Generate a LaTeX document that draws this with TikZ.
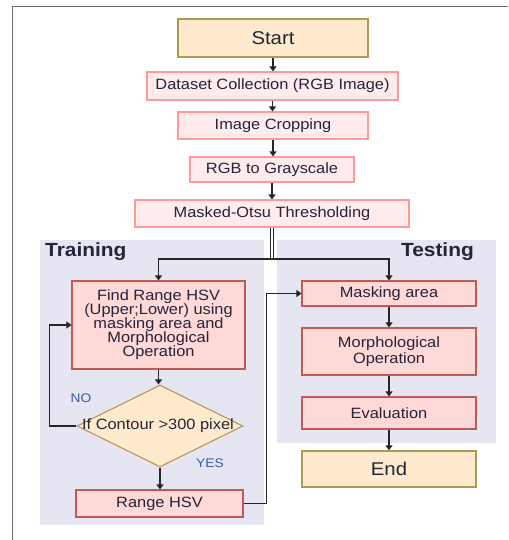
\documentclass[tikz,border=0pt]{standalone}
\usepackage{fontspec}
\setmainfont{Liberation Sans}[FakeStretch=1.1]
\usetikzlibrary{shapes.geometric,arrows.meta}
\definecolor{ofill}{HTML}{FFEACD}
\definecolor{obord}{HTML}{B09858}
\definecolor{lfill}{HTML}{FFEBEB}
\definecolor{lbord}{HTML}{FF9A9A}
\definecolor{dfill}{HTML}{FFD8D8}
\definecolor{dbord}{HTML}{C05A5A}
\definecolor{panel}{HTML}{E6E6F2}
\definecolor{txt}{HTML}{24243A}
\definecolor{lbl}{HTML}{3A5BA0}
\definecolor{frm}{HTML}{707070}
\begin{document}
\begin{tikzpicture}[x=1pt,y=-1pt,
  base/.style={inner sep=0pt, text=txt, align=center, font=\fontsize{14.9}{14}\selectfont},
  obox/.style={base, draw=obord, fill=ofill, line width=1.4pt, font=\fontsize{18.5}{18}\selectfont},
  lbox/.style={base, draw=lbord, fill=lfill, line width=1.1pt},
  dbox/.style={base, draw=dbord, fill=dfill, line width=1.1pt},
  ttl/.style={inner sep=0pt, text=txt, font=\fontsize{19}{19}\selectfont\bfseries},
  yn/.style={inner sep=0pt, text=lbl, font=\fontsize{12.5}{12}\selectfont},
  arr/.style={draw=black!85, line width=1.1pt, -{Triangle[length=5pt,width=7pt]}},
  ln/.style={draw=black!85, line width=1.1pt}]
\useasboundingbox (0,0) rectangle (508,540);
% frame
\draw[frm, line width=1.6pt] (12.5,540) -- (12.5,6.5) -- (508,6.5);
% panels
\fill[panel] (40,240) rectangle (264,525);
\fill[panel] (277,240) rectangle (496,443);
\node[ttl, anchor=west] (ttrain) at (45,252) {Training};
\node[ttl, anchor=east] (ttest) at (474,252) {Testing};
% top chain
\node[obox, minimum width=190pt, minimum height=38pt] (start) at (273,38) {Start};
\node[lbox, minimum width=251pt, minimum height=28pt] (data) at (272.5,86) {Dataset Collection (RGB Image)};
\node[lbox, minimum width=190pt, minimum height=27pt] (crop) at (273,125.5) {Image Cropping};
\node[lbox, minimum width=164pt, minimum height=25pt] (gray) at (272,169.5) {RGB to Grayscale};
\node[lbox, minimum width=274pt, minimum height=27pt] (otsu) at (272,213.5) {Masked-Otsu Thresholding};
% training
\node[dbox, minimum width=173pt, minimum height=88pt] (find) at (158.5,325)
  {Find Range HSV\\(Upper;Lower) using\\masking area and\\Morphological\\Operation};
\node[diamond, draw=obord, fill=ofill, line width=1.1pt, inner sep=0pt,
  minimum width=166pt, minimum height=82pt] (dia) at (160,426) {};
\node[base] (diatext) at (158,426) {If Contour >300 pixel};
\node[dbox, minimum width=167pt, minimum height=27pt] (range) at (159.5,503.5) {Range HSV};
\node[yn] (no) at (81,398) {NO};
\node[yn] (yes) at (210,463) {YES};
% testing
\node[dbox, minimum width=174pt, minimum height=25pt] (mask) at (389,293.5) {Masking area};
\node[dbox, minimum width=174pt, minimum height=47pt, font=\fontsize{14.9}{16}\selectfont] (morph) at (389,351.5) {Morphological\\Operation};
\node[dbox, minimum width=174pt, minimum height=32pt] (eval) at (389,413) {Evaluation};
\node[obox, minimum width=174pt, minimum height=36pt] (end) at (389,469) {End};
% connectors
\draw[arr] (start.south) -- (start.south |- data.north);
\draw[arr] (data.south) -- (data.south |- crop.north);
\draw[arr] (crop.south) -- (crop.south |- gray.north);
\draw[arr] (gray.south) -- (gray.south |- otsu.north);
\coordinate (split) at (272,259);
\draw[ln, double=white, double distance=1.6pt, line width=0.9pt] (otsu.south) -- (split);
\draw[arr] (split) -| (find.north);
\draw[arr] (split) -| (mask.north);
\draw[arr] (find.south) -- (find.south |- dia.north);
\draw[arr] (dia.south) -- (dia.south |- range.north);
\draw[arr] (dia.west) -- ++(-27,0) |- (find.west);
\draw[arr] (range.east) -- ++(23,0) |- (mask.west);
\draw[arr] (mask.south) -- (morph.north);
\draw[arr] (morph.south) -- (eval.north);
\draw[arr] (eval.south) -- (end.north);
\end{tikzpicture}
\end{document}
